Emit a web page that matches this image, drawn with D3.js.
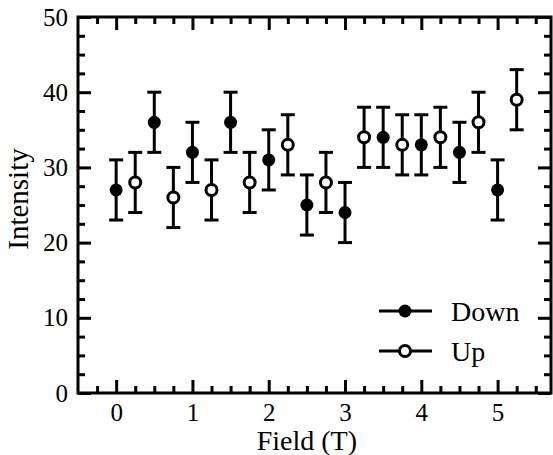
<!DOCTYPE html>
<html>
<head>
<meta charset="utf-8">
<script src="https://cdn.jsdelivr.net/npm/d3@7"></script>
<style>
  body { margin: 0; background: #fff; }
</style>
</head>
<body>
<svg class="chart"></svg>
<script>
const downField = [0, 0.5, 1, 1.5, 2, 2.5, 3, 3.5, 4, 4.5, 5]
const downIntensity = [27, 36, 32, 36, 31, 25, 24, 34, 33, 32, 27]
const upField = [0.25, 0.75, 1.25, 1.75, 2.25, 2.75, 3.25, 3.75, 4.25, 4.75, 5.25]
const upIntensity = [28, 26, 27, 28, 33, 28, 34, 33, 34, 36, 39]
const errorBar = 4
const xTicks = [0, 1, 2, 3, 4, 5]
const yTicks = [0, 10, 20, 30, 40, 50]

const FONT = '"Liberation Serif"'
const W = 553, H = 455
const margin = { top: 17, right: 2, bottom: 62, left: 78 }
const width = W - margin.left - margin.right
const height = H - margin.top - margin.bottom

const svg = d3.select('svg.chart').attr('width', W).attr('height', H)
const chart = svg.append('g').attr('transform', `translate(${margin.left}, ${margin.top})`)

const x = d3.scaleLinear().domain([-0.5, 5.7]).range([0, width])
const y = d3.scaleLinear().domain([0, 50]).range([height, 0])

const xMinor = d3.range(-0.25, 5.7, 0.25).filter(v => Math.abs(v - Math.round(v)) > 0.01)
const yMinor = d3.range(2.5, 50, 2.5).filter(v => v % 10 !== 0)

// axes with inward ticks, all four sides
function drawAxis(axisFn, scale, ticks, size, transform, labels) {
  const g = chart.append('g')
    .attr('transform', transform)
    .call(axisFn(scale).tickValues(ticks).tickSize(-size).tickPadding(labels ? 10 : 0)
      .tickFormat(labels ? d3.format('d') : ''))
  g.attr('font-family', null).attr('font-size', null)
  g.select('.domain').remove()
  g.selectAll('line').attr('stroke', '#000').attr('stroke-width', 3)
  g.selectAll('text')
    .attr('fill', '#000')
    .style('font-family', FONT)
    .style('font-size', '25px')
  return g
}

drawAxis(d3.axisBottom, x, xTicks, 13, `translate(0, ${height})`, true)
drawAxis(d3.axisBottom, x, xMinor, 7, `translate(0, ${height})`, false)
drawAxis(d3.axisTop, x, xTicks, 13, 'translate(0, 0)', false)
drawAxis(d3.axisTop, x, xMinor, 7, 'translate(0, 0)', false)
drawAxis(d3.axisLeft, y, yTicks, 13, 'translate(0, 0)', true)
drawAxis(d3.axisLeft, y, yMinor, 7, 'translate(0, 0)', false)
drawAxis(d3.axisRight, y, yTicks, 13, `translate(${width}, 0)`, false)
drawAxis(d3.axisRight, y, yMinor, 7, `translate(${width}, 0)`, false)

// frame
chart.append('rect')
  .attr('width', width).attr('height', height)
  .attr('fill', 'none').attr('stroke', '#000').attr('stroke-width', 3)

// axis titles
chart.append('text')
  .attr('x', x(2.5)).attr('y', height + 57)
  .attr('text-anchor', 'middle')
  .style('font-family', FONT)
  .style('font-size', '28px')
  .text('Field (T)')

chart.append('text')
  .attr('transform', `translate(${-50}, 182) rotate(-90)`)
  .attr('text-anchor', 'middle')
  .style('font-family', FONT)
  .style('font-size', '29px')
  .text('Intensity')

const series = [
  { name: 'Down', xs: downField, ys: downIntensity, filled: true },
  { name: 'Up', xs: upField, ys: upIntensity, filled: false }
]

series.forEach(s => {
  const pts = s.xs.map((f, i) => ({ f, v: s.ys[i] }))
  const g = chart.append('g')
  const bars = g.selectAll('g.err').data(pts).enter().append('g')
    .attr('stroke', '#000').attr('stroke-width', 3)
  bars.append('line')
    .attr('x1', d => x(d.f)).attr('x2', d => x(d.f))
    .attr('y1', d => y(d.v - errorBar)).attr('y2', d => y(d.v + errorBar))
  bars.append('line')
    .attr('x1', d => x(d.f) - 7).attr('x2', d => x(d.f) + 7)
    .attr('y1', d => y(d.v + errorBar)).attr('y2', d => y(d.v + errorBar))
  bars.append('line')
    .attr('x1', d => x(d.f) - 7).attr('x2', d => x(d.f) + 7)
    .attr('y1', d => y(d.v - errorBar)).attr('y2', d => y(d.v - errorBar))
  g.selectAll('circle').data(pts).enter().append('circle')
    .attr('cx', d => x(d.f)).attr('cy', d => y(d.v))
    .attr('r', s.filled ? 6.5 : 5.5)
    .attr('fill', s.filled ? '#000' : '#fff')
    .attr('stroke', '#000').attr('stroke-width', s.filled ? 0 : 3)
})

// legend
const legend = chart.append('g')
series.forEach((s, i) => {
  const ly = 294 + i * 40
  legend.append('line')
    .attr('x1', 301).attr('x2', 354).attr('y1', ly).attr('y2', ly)
    .attr('stroke', '#000').attr('stroke-width', 3)
  legend.append('circle')
    .attr('cx', 327).attr('cy', ly)
    .attr('r', s.filled ? 6.5 : 5.5)
    .attr('fill', s.filled ? '#000' : '#fff')
    .attr('stroke', '#000').attr('stroke-width', s.filled ? 0 : 3)
  legend.append('text')
    .attr('x', 373).attr('y', ly + 10)
    .style('font-family', FONT)
    .style('font-size', '28px')
    .text(s.name)
})
</script>
</body>
</html>
